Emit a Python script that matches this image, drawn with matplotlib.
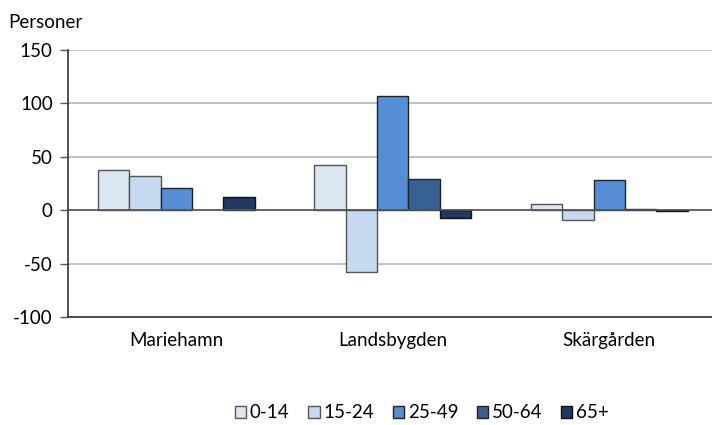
import numpy as np
import matplotlib
matplotlib.use("Agg")
import matplotlib.pyplot as plt
from matplotlib.patches import Patch

plt.rcParams['font.family'] = ['Lato', 'DejaVu Sans']
plt.rcParams['axes.unicode_minus'] = False

# values
regions = ["Mariehamn", "Landsbygden", "Skärgården"]
age_groups = ["0-14", "15-24", "25-49", "50-64", "65+"]
values = {
    "0-14":  [38, 42, 6],
    "15-24": [32, -58, -9],
    "25-49": [21, 107, 28],
    "50-64": [0, 29, 1],
    "65+":   [12, -7, -1],
}
colors = ["#dce6f2", "#c6d9f1", "#558ed5", "#376092", "#1f3864"]
edges = ["#555555", "#555555", "#222222", "#222222", "#111111"]

fig = plt.figure(figsize=(7.12, 4.25), dpi=100)
ax = fig.add_axes([68/712, (425-317)/425, 644/712, 267/425])

x = np.arange(len(regions))
w = 0.145
for i, g in enumerate(age_groups):
    vals = np.array(values[g])
    off = (i - 2) * w
    mask = vals != 0
    ax.bar(x[mask] + off, vals[mask], width=w, color=colors[i],
           edgecolor=edges[i], linewidth=1.0, zorder=3)

ax.set_ylim(-100, 150)
ax.set_yticks(np.arange(-100, 151, 50))
ax.set_xlim(-0.5, -0.5 + 644/216.5)
ax.yaxis.grid(True, color="#b8b8b8", linewidth=1.2, zorder=0)
ax.axhline(0, color="#555555", linewidth=1.2, zorder=4)

for s in ["top", "right"]:
    ax.spines[s].set_visible(False)
ax.spines["left"].set_color("#333333")
ax.spines["left"].set_linewidth(1.2)
ax.spines["bottom"].set_color("#333333")
ax.spines["bottom"].set_linewidth(1.2)

ax.set_xticks(x)
ax.set_xticklabels(regions, fontsize=13.5)
ax.tick_params(axis="x", length=0, pad=11)
ax.tick_params(axis="y", length=6, width=1, color="#555555", labelsize=13.5, pad=5)

fig.text(8/712, 1 - 22/425, "Personer", fontsize=13.5, va="center", ha="left")

handles = [Patch(facecolor=colors[i], edgecolor=edges[i], label=g)
           for i, g in enumerate(age_groups)]
fig.legend(handles=handles, loc="center", bbox_to_anchor=(422/712, 1 - 413/425),
           ncol=5, frameon=False, fontsize=13.5, handlelength=0.6, handleheight=0.6,
           handletextpad=0.2, columnspacing=1.0)

fig.savefig("out.png", dpi=100)
